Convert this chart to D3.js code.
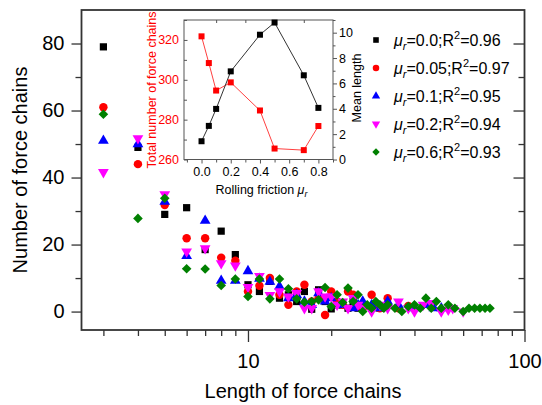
<!DOCTYPE html>
<html>
<head>
<meta charset="utf-8">
<script src="https://cdn.jsdelivr.net/npm/d3@7"></script>
<style>
  body { margin: 0; background: #fff; }
  text { font-family: Arial, "Liberation Sans", sans-serif; }
</style>
</head>
<body>
<script>
// main chart data: length of force chains vs number of chains
var len00 = [3, 4, 5, 6, 7, 8, 9, 10, 11, 12, 13, 14, 15, 16, 17, 18, 19, 20, 21, 22, 23, 24, 25, 26, 28, 30];
var num00 = [79, 49, 29, 31, 18.5, 24, 17, 8, 6, 9, 4, 5, 3, 6, 0.7, 6.5, 3, 0.8, 2, 2, 1, 3, 1, 2, 1, 1];

var len05 = [3, 4, 5, 6, 7, 8, 9, 10, 11, 12, 13, 14, 15, 16, 17, 18, 19, 20, 21, 22, 23, 24, 25, 26, 28, 30, 32, 35, 38];
var num05 = [61, 44, 31.8, 21.9, 21.9, 16.1, 15.2, 6, 7.7, 10, 5, 2, 6, 8, 3, 4, -1, 6, 3, 2, 6, 5, 2, 1, 5, 1, 4, 1, 1.7];

var len10 = [3, 4, 5, 6, 7, 8, 9, 10, 11, 12, 13, 14, 15, 16, 17, 18, 19, 20, 22, 24, 25, 26, 28, 30, 32, 35, 40, 45, 47, 50];
var num10 = [51, 50, 32.8, 16.6, 27.1, 9.2, 9.2, 12.1, 9.8, 8.9, 7.5, 4, 5, 3, 2, 5.5, 3, 4, 2, 1, 2, 3, 2, 1, 3, 2, 1, 2, 1, 1];

var len20 = [3, 4, 5, 6, 7, 8, 9, 10, 11, 12, 13, 14, 15, 16, 17, 18, 19, 20, 21, 22, 23, 24, 25, 26, 28, 30, 32, 35, 38, 40, 43, 46, 50, 53, 55, 60];
var num20 = [41.6, 51.7, 35, 17.9, 18.9, 14.4, 13.7, 7.3, 10.6, 4.9, 6, 4.5, 5.5, 1, 1, 6, 4.5, 4.5, 2, 3, 1, 4, 2, 1, 0, 2, 1, 3, 1, 0, 2, 2.5, 0, 0.5, 1, 0];

var len60 = [3, 4, 5, 6, 7, 8, 9, 10, 11, 12, 13, 14, 15, 16, 17, 18, 19, 20, 21, 22, 23, 24, 25, 26, 27, 28, 29, 30, 31, 32, 34, 36, 38, 40, 42, 44, 46, 48, 50, 53, 56, 60, 63, 66, 69, 72, 75];
var num60 = [58.9, 27.8, 33.8, 12.8, 12.7, 7.8, 9.7, 4.5, 9.7, 3.8, 9.7, 6.8, 3.8, 2.8, 3, 3.5, 7.2, 1.5, 5, 2.7, 7, 3, 5, 0, 2, 1, 3, 2, 1, 2, 1, 0, 1.5, 2, 1, 4, 1, 3, 1, 2, 1, 0, 1, 1, 1, 1, 1];

// legend labels
var frictionLabels = ["0.0", "0.05", "0.1", "0.2", "0.6"];
var r2Labels = ["0.96", "0.97", "0.95", "0.94", "0.93"];

// inset data
var rollFriction = [0, 0.05, 0.1, 0.2, 0.4, 0.5, 0.7, 0.8];
var meanLength = [1.44, 2.65, 3.99, 6.95, 9.84, 10.8, 6.64, 4.07];
var totalChains = [321.8, 308.4, 294.6, 298.7, 284.6, 265.5, 264.7, 276.8];

var svgWidth = 542, svgHeight = 405;
var plot = { left: 81.5, right: 524.5, top: 10, bottom: 330 };

var svg = d3.select("body").append("svg")
    .attr("width", svgWidth)
    .attr("height", svgHeight);

var xScale = d3.scaleLog().domain([2.5, 100]).range([plot.left, plot.right]);
var yScale = d3.scaleLinear().domain([-5.5, 90]).range([plot.bottom, plot.top]);

var frameColor = "#333";

// axes
function styleAxis(g, fontSize) {
    g.select(".domain").remove();
    g.selectAll(".tick line").attr("stroke", frameColor).attr("stroke-width", 1.3);
    g.selectAll("text").attr("font-size", fontSize).attr("fill", "#000")
        .style("font-family", "Arial, 'Liberation Sans', sans-serif");
}

var xMinor = [3, 4, 5, 6, 7, 8, 9, 20, 30, 40, 50, 60, 70, 80, 90];
svg.append("g").attr("transform", `translate(0, ${plot.bottom})`)
    .call(d3.axisBottom(xScale).tickValues(xMinor).tickSize(6).tickFormat(""))
    .call(g => styleAxis(g, 20));
svg.append("g").attr("transform", `translate(0, ${plot.bottom})`)
    .call(d3.axisBottom(xScale).tickValues([10, 100]).tickSize(12).tickPadding(12).tickFormat(d3.format("d")))
    .call(g => styleAxis(g, 20));

svg.append("g").attr("transform", `translate(${plot.left}, 0)`)
    .call(d3.axisLeft(yScale).tickValues([10, 30, 50, 70]).tickSize(6).tickFormat(""))
    .call(g => styleAxis(g, 20));
svg.append("g").attr("transform", `translate(${plot.left}, 0)`)
    .call(d3.axisLeft(yScale).tickValues([0, 20, 40, 60, 80]).tickSize(10).tickPadding(7))
    .call(g => styleAxis(g, 20));

// right mirror ticks pointing inward
svg.append("g").attr("transform", `translate(${plot.right}, 0)`)
    .call(d3.axisRight(yScale).tickValues([10, 30, 50, 70]).tickSize(-6).tickFormat(""))
    .call(g => styleAxis(g, 20));
svg.append("g").attr("transform", `translate(${plot.right}, 0)`)
    .call(d3.axisRight(yScale).tickValues([0, 20, 40, 60, 80]).tickSize(-11).tickFormat(""))
    .call(g => styleAxis(g, 20));

svg.append("rect")
    .attr("x", plot.left).attr("y", plot.top)
    .attr("width", plot.right - plot.left).attr("height", plot.bottom - plot.top)
    .attr("fill", "none").attr("stroke", frameColor).attr("stroke-width", 1.8);

// axis titles
svg.append("text")
    .attr("x", (plot.left + plot.right) / 2).attr("y", 398)
    .attr("text-anchor", "middle").attr("font-size", 20)
    .text("Length of force chains");

svg.append("text")
    .attr("transform", `translate(27, ${(plot.top + plot.bottom) / 2}) rotate(-90)`)
    .attr("text-anchor", "middle").attr("font-size", 20)
    .text("Number of force chains");

// scatter series (rot = extra rotation of the marker)
var series = [
    { lens: len00, nums: num00, color: "#000000", shape: d3.symbolSquare, size: 52, rot: 0 },
    { lens: len05, nums: num05, color: "#ff0000", shape: d3.symbolCircle, size: 56, rot: 0 },
    { lens: len10, nums: num10, color: "#0000ff", shape: d3.symbolTriangle, size: 50, rot: 0 },
    { lens: len20, nums: num20, color: "#ff00ff", shape: d3.symbolTriangle, size: 50, rot: 180 },
    { lens: len60, nums: num60, color: "#008000", shape: d3.symbolSquare, size: 46, rot: 45 }
];

series.forEach(function (s) {
    var pts = s.lens.map((l, i) => [l, s.nums[i]]);
    svg.append("g").selectAll("path")
        .data(pts)
        .enter().append("path")
        .attr("d", d3.symbol().type(s.shape).size(s.size))
        .attr("transform", d => `translate(${xScale(d[0])}, ${yScale(d[1])}) rotate(${s.rot})`)
        .attr("fill", s.color);
});

// legend
var legend = svg.append("g");
series.forEach(function (s, i) {
    var ly = 40 + i * 28;
    legend.append("path")
        .attr("d", d3.symbol().type(s.shape).size(s.size * 0.6))
        .attr("transform", `translate(376, ${ly}) rotate(${s.rot})`)
        .attr("fill", s.color);
    var t = legend.append("text").attr("x", 394).attr("y", ly + 6).attr("font-size", 16);
    t.append("tspan").attr("font-style", "italic").text("\u03bc");
    t.append("tspan").attr("font-style", "italic").attr("font-size", 11).attr("dy", 4).text("r");
    t.append("tspan").attr("dy", -4).text("=" + frictionLabels[i] + ";R");
    t.append("tspan").attr("font-size", 11).attr("dy", -7).text("2");
    t.append("tspan").attr("dy", 7).text("=" + r2Labels[i]);
});

// inset
var inset = { left: 184, right: 333, top: 20, bottom: 159.5 };
var ix = d3.scaleLinear().domain([-0.12, 0.9]).range([inset.left, inset.right]);
var iyL = d3.scaleLinear().domain([260, 330]).range([inset.bottom, inset.top]);
var iyR = d3.scaleLinear().domain([0, 11]).range([inset.bottom, inset.top]);

svg.append("rect")
    .attr("x", inset.left).attr("y", inset.top)
    .attr("width", inset.right - inset.left).attr("height", inset.bottom - inset.top)
    .attr("fill", "#fff");

function styleInset(g, color) {
    g.select(".domain").remove();
    g.selectAll(".tick line").attr("stroke", "#555").attr("stroke-width", 1);
    g.selectAll("text").attr("font-size", 12.5).attr("fill", color)
        .style("font-family", "Arial, 'Liberation Sans', sans-serif");
}

svg.append("g").attr("transform", `translate(0, ${inset.bottom})`)
    .call(d3.axisBottom(ix).tickValues([-0.1, 0.1, 0.3, 0.5, 0.7, 0.9]).tickSize(3).tickFormat(""))
    .call(g => styleInset(g, "#000"));
svg.append("g").attr("transform", `translate(0, ${inset.bottom})`)
    .call(d3.axisBottom(ix).tickValues([0, 0.2, 0.4, 0.6, 0.8]).tickSize(4).tickPadding(4).tickFormat(d3.format(".1f")))
    .call(g => styleInset(g, "#000"));
svg.append("g").attr("transform", `translate(0, ${inset.top})`)
    .call(d3.axisTop(ix).tickValues([0.1, 0.3, 0.5, 0.7]).tickSize(-3).tickFormat(""))
    .call(g => styleInset(g, "#000"));

svg.append("g").attr("transform", `translate(${inset.left}, 0)`)
    .call(d3.axisLeft(iyL).tickValues([270, 290, 310, 330]).tickSize(-3).tickFormat(""))
    .call(g => styleInset(g, "#ff0000"));
svg.append("g").attr("transform", `translate(${inset.left}, 0)`)
    .call(d3.axisLeft(iyL).tickValues([260, 280, 300, 320]).tickSize(-3.5).tickPadding(5))
    .call(g => styleInset(g, "#ff0000"));

svg.append("g").attr("transform", `translate(${inset.right}, 0)`)
    .call(d3.axisRight(iyR).tickValues([1, 3, 5, 7, 9, 11]).tickSize(2.5).tickFormat(""))
    .call(g => styleInset(g, "#000"));
svg.append("g").attr("transform", `translate(${inset.right}, 0)`)
    .call(d3.axisRight(iyR).tickValues([0, 2, 4, 6, 8, 10]).tickSize(4).tickPadding(2))
    .call(g => styleInset(g, "#000"));

svg.append("rect")
    .attr("x", inset.left).attr("y", inset.top)
    .attr("width", inset.right - inset.left).attr("height", inset.bottom - inset.top)
    .attr("fill", "none").attr("stroke", "#555").attr("stroke-width", 1);

var xlab = svg.append("text")
    .attr("x", (inset.left + inset.right) / 2 + 3).attr("y", 194)
    .attr("text-anchor", "middle").attr("font-size", 12.5);
xlab.append("tspan").text("Rolling friction ");
xlab.append("tspan").attr("font-style", "italic").text("\u03bc");
xlab.append("tspan").attr("font-style", "italic").attr("font-size", 9).attr("dy", 3).text("r");

svg.append("text")
    .attr("transform", `translate(156, 90) rotate(-90)`)
    .attr("text-anchor", "middle").attr("font-size", 12.5).attr("fill", "#ff0000")
    .text("Total number of force chains");

svg.append("text")
    .attr("transform", `translate(361, 88) rotate(-90)`)
    .attr("text-anchor", "middle").attr("font-size", 12.5)
    .text("Mean length");

var redLine = d3.line().x((d, i) => ix(rollFriction[i])).y(d => iyL(d));
svg.append("path").datum(totalChains)
    .attr("d", redLine).attr("fill", "none").attr("stroke", "#ff4040").attr("stroke-width", 1);
svg.append("g").selectAll("rect").data(totalChains).enter().append("rect")
    .attr("x", (d, i) => ix(rollFriction[i]) - 3).attr("y", d => iyL(d) - 3)
    .attr("width", 6).attr("height", 6).attr("fill", "#ff0000");

var blackLine = d3.line().x((d, i) => ix(rollFriction[i])).y(d => iyR(d));
svg.append("path").datum(meanLength)
    .attr("d", blackLine).attr("fill", "none").attr("stroke", "#333").attr("stroke-width", 1);
svg.append("g").selectAll("rect").data(meanLength).enter().append("rect")
    .attr("x", (d, i) => ix(rollFriction[i]) - 3).attr("y", d => iyR(d) - 3)
    .attr("width", 6).attr("height", 6).attr("fill", "#000");
</script>
</body>
</html>
